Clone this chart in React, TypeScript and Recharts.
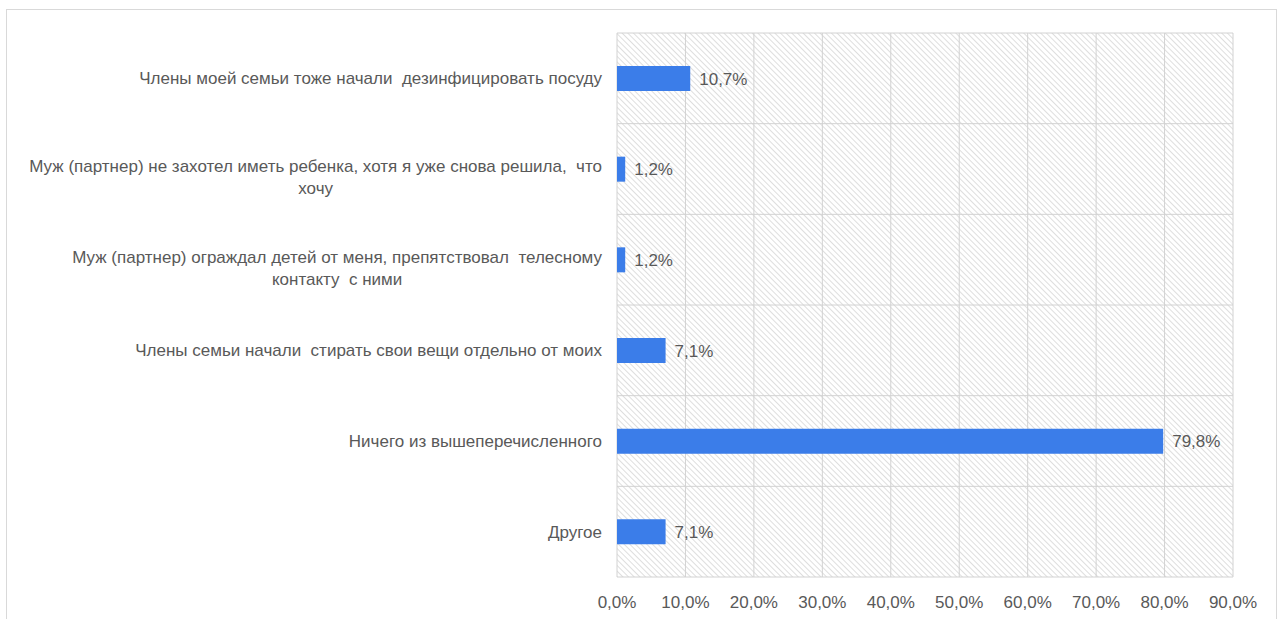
import { BarChart, Bar, XAxis, YAxis, CartesianGrid, LabelList } from "recharts";

const categories = [
  "Члены моей семьи тоже начали  дезинфицировать посуду",
  "Муж (партнер) не захотел иметь ребенка, хотя я уже снова решила,  что|хочу",
  "Муж (партнер) ограждал детей от меня, препятствовал  телесному|контакту  с ними",
  "Члены семьи начали  стирать свои вещи отдельно от моих",
  "Ничего из вышеперечисленного",
  "Другое",
];
const values = [10.7, 1.2, 1.2, 7.1, 79.8, 7.1];
const xTicks = [0, 10, 20, 30, 40, 50, 60, 70, 80, 90];

const data = categories.map((name, i) => ({ name, value: values[i] }));

const FONT = "'Liberation Sans', Arial, sans-serif";
const FONT_SIZE = 17;
const TEXT = "#595959";

const pct = (v: number) => `${v.toFixed(1).replace(".", ",")}%`;

let ctx: CanvasRenderingContext2D | null = null;
function textWidth(s: string) {
  if (!ctx) ctx = document.createElement("canvas").getContext("2d");
  if (!ctx) return s.length * 9;
  ctx.font = `${FONT_SIZE}px 'Liberation Sans'`;
  return ctx.measureText(s).width;
}

function CategoryTick(props: any) {
  const { x, y, payload } = props;
  const lines: string[] = String(payload.value).split("|");
  const right = x - 7;
  if (lines.length === 1) {
    return (
      <text x={right} y={y} dy={6} textAnchor="end" fontSize={FONT_SIZE} fill={TEXT} fontFamily={FONT} style={{ whiteSpace: "pre" }}>
        {lines[0]}
      </text>
    );
  }
  const w = Math.max(...lines.map(textWidth));
  const cx = right - w / 2;
  return (
    <text x={cx} y={y} textAnchor="middle" fontSize={FONT_SIZE} fill={TEXT} fontFamily={FONT} style={{ whiteSpace: "pre" }}>
      {lines.map((l, i) => (
        <tspan key={i} x={cx} dy={i === 0 ? 3 : 22}>
          {l}
        </tspan>
      ))}
    </text>
  );
}

export default function App() {
  return (
    <div style={{ position: "absolute", left: 0, top: 0, width: 1281, height: 619, background: "#fff", overflow: "hidden" }}>
      <div
        style={{
          position: "absolute",
          left: 6,
          top: 9,
          width: 1271,
          height: 640,
          border: "1px solid #d9d9d9",
          boxSizing: "border-box",
        }}
      />
      <div style={{ position: "absolute", left: 0, top: 0 }}>
        <BarChart
          width={1281}
          height={619}
          data={data}
          layout="vertical"
          margin={{ top: 33, right: 48, left: 0, bottom: 12 }}
          barCategoryGap={0}
        >
          <defs>
            <pattern id="hatch" patternUnits="userSpaceOnUse" width={4} height={4} patternTransform="rotate(-45)">
              <line x1={0} y1={0} x2={0} y2={4} stroke="#c8c8c8" strokeWidth={1.2} />
            </pattern>
          </defs>
          <CartesianGrid
            fill="url(#hatch)"
            stroke="#d2d2d2"
            strokeWidth={1}
            horizontalCoordinatesGenerator={({ offset }: any) =>
              categories.map((_, i) => offset.top + (i * offset.height) / categories.length).concat(offset.top + offset.height)
            }
          />
          <XAxis
            type="number"
            domain={[0, 90]}
            ticks={xTicks}
            tickFormatter={pct}
            axisLine={false}
            tickLine={false}
            height={30}
            tick={{ fontSize: FONT_SIZE, fill: TEXT, fontFamily: FONT }}
            tickMargin={13}
          />
          <YAxis
            type="category"
            dataKey="name"
            width={617}
            axisLine={false}
            tickLine={false}
            tick={<CategoryTick />}
            interval={0}
          />
          <Bar dataKey="value" fill="#3b7de9" barSize={25} isAnimationActive={false}>
            <LabelList
              dataKey="value"
              position="right"
              offset={9}
              formatter={(v: any) => pct(Number(v))}
              style={{ fontSize: FONT_SIZE, fill: TEXT, fontFamily: FONT }}
            />
          </Bar>
        </BarChart>
      </div>
    </div>
  );
}
